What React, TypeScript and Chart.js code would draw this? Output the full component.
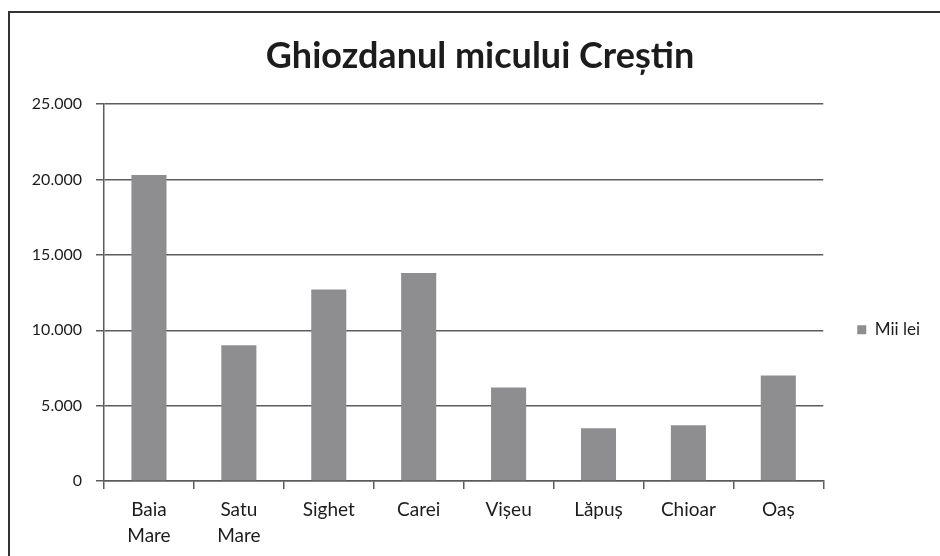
import { useEffect, useRef } from 'react';
import { Chart, registerables } from 'chart.js';

Chart.register(...registerables);

const chartTitle = 'Ghiozdanul micului Creștin';
const seriesLabel = 'Mii lei';
const categories: (string | string[])[] = [
  ['Baia', 'Mare'],
  ['Satu', 'Mare'],
  'Sighet',
  'Carei',
  'Vișeu',
  'Lăpuș',
  'Chioar',
  'Oaș',
];
const values = [20300, 9000, 12700, 13800, 6200, 3500, 3700, 7000];
const yTickLabels = ['0', '5.000', '10.000', '15.000', '20.000', '25.000'];

const TEXT = '#1c1c1c';
const LINE = '#5c5c5c';
const BAR = '#8e8e90';
const FONT = 'Lato';

export default function App() {
  const ref = useRef<HTMLCanvasElement>(null);

  useEffect(() => {
    const chart = new Chart(ref.current!, {
      type: 'bar',
      data: {
        labels: categories,
        datasets: [
          {
            label: seriesLabel,
            data: values,
            backgroundColor: BAR,
            borderWidth: 0,
            barPercentage: 0.39,
            categoryPercentage: 1,
          },
        ],
      },
      options: {
        animation: false,
        responsive: false,
        maintainAspectRatio: false,
        layout: { padding: { left: 30, right: 10, top: 0, bottom: 0 } },
        plugins: {
          title: {
            display: true,
            text: chartTitle,
            color: TEXT,
            font: { family: FONT, size: 36, weight: 'bold', lineHeight: 1.2 },
            padding: { top: 35, bottom: 26 },
          },
          legend: {
            position: 'right',
            align: 'start',
            fullSize: false,
            labels: {
              boxWidth: 9,
              boxHeight: 9,
              padding: 34,
              color: TEXT,
              font: { family: FONT, size: 17 },
            },
            title: {
              display: true,
              text: '',
              font: { size: 10, lineHeight: 1 },
              padding: { top: 0, bottom: 173 },
            },
          },
          tooltip: { enabled: false },
        },
        scales: {
          x: {
            grid: {
              display: true,
              drawOnChartArea: false,
              drawTicks: true,
              tickLength: 8,
              color: LINE,
              lineWidth: 1.5,
              offset: true,
            },
            border: { display: true, color: LINE, width: 1.5 },
            ticks: {
              color: TEXT,
              font: { family: FONT, size: 19, lineHeight: 1.37 },
              maxRotation: 0,
              autoSkip: false,
              padding: 8,
            },
            afterFit: (s: any) => {
              s.height = 75;
            },
          },
          y: {
            min: 0,
            max: 25000,
            ticks: {
              stepSize: 5000,
              color: TEXT,
              font: { family: FONT, size: 16 },
              padding: 14,
              callback: (_v: any, i: number) => yTickLabels[i],
            },
            grid: { color: LINE, lineWidth: 1.5, tickLength: 8 },
            border: { display: true, color: LINE, width: 1.5 },
            afterFit: (s: any) => {
              s.width = 74;
            },
          },
        },
      },
    });
    return () => chart.destroy();
  }, []);

  return (
    <div
      style={{
        position: 'fixed',
        left: 0,
        top: 0,
        width: 940,
        height: 556,
        background: '#ffffff',
        overflow: 'hidden',
      }}
    >
      <div
        style={{
          position: 'absolute',
          left: 8,
          top: 11,
          width: 1000,
          height: 1000,
          borderLeft: '2px solid #333',
          borderTop: '2px solid #333',
        }}
      />
      <canvas
        ref={ref}
        width={940}
        height={556}
        style={{ position: 'absolute', left: 0, top: 0 }}
      />
    </div>
  );
}
